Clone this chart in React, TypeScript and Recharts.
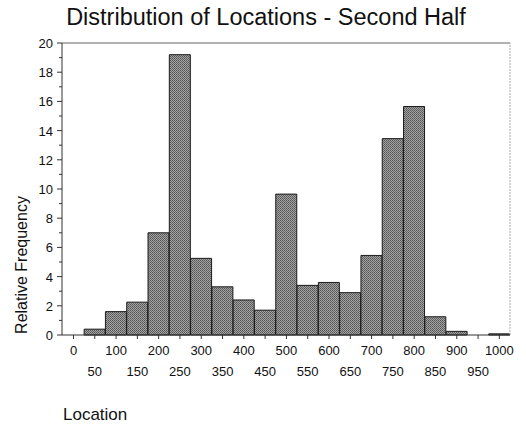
import { Bar, BarChart, ReferenceLine, XAxis, YAxis } from "recharts";

// bin centres (width 50) and relative frequency (%)
const binCenters = [50, 100, 150, 200, 250, 300, 350, 400, 450, 500, 550, 600, 650, 700, 750, 800, 850, 900, 950, 1000];
const frequencies = [0.4, 1.6, 2.25, 7.0, 19.2, 5.25, 3.3, 2.4, 1.7, 9.65, 3.4, 3.6, 2.9, 5.45, 13.45, 15.65, 1.25, 0.25, 0, 0.08];
const xTicks = [0, 50, 100, 150, 200, 250, 300, 350, 400, 450, 500, 550, 600, 650, 700, 750, 800, 850, 900, 950, 1000];
const yTicks = [0, 1, 2, 3, 4, 5, 6, 7, 8, 9, 10, 11, 12, 13, 14, 15, 16, 17, 18, 19, 20];

const data = binCenters.map((x, i) => ({ x, freq: frequencies[i] }));

const FONT = "'Liberation Sans', Arial, Helvetica, sans-serif";

function XTick(props: any) {
  const { x, y, payload } = props;
  const v = payload.value as number;
  const upper = v % 100 === 0;
  return (
    <g>
      <line x1={x} y1={y - 8} x2={x} y2={y - 4} stroke="#333" strokeWidth={1} />
      <text
        x={x}
        y={upper ? y + 12 : y + 33}
        textAnchor="middle"
        fontSize={13}
        fontFamily={FONT}
        fill="#111"
      >
        {v}
      </text>
    </g>
  );
}

function YTick(props: any) {
  const { x, y, payload } = props;
  const v = payload.value as number;
  const major = v % 2 === 0;
  return (
    <g>
      <line x1={x + 8 - (major ? 5 : 3)} y1={y} x2={x + 8} y2={y} stroke="#333" strokeWidth={1} />
      {major && (
        <text x={x - 1} y={y + 5} textAnchor="end" fontSize={13} fontFamily={FONT} fill="#111">
          {v}
        </text>
      )}
    </g>
  );
}

export default function App() {
  return (
    <div style={{ position: "absolute", left: 0, top: 0, width: 526, height: 427, background: "#fff", fontFamily: FONT }}>
      <div style={{ position: "absolute", left: 0, top: 4, width: 532, textAlign: "center", fontSize: 23.5, color: "#111" }}>
        Distribution of Locations - Second Half
      </div>
      <div
        style={{
          position: "absolute",
          left: 22,
          top: 265,
          fontSize: 16,
          color: "#111",
          whiteSpace: "nowrap",
          transform: "translate(-50%, -50%) rotate(-90deg)",
        }}
      >
        Relative Frequency
      </div>
      <div style={{ position: "absolute", left: 63, top: 405, fontSize: 17, color: "#111" }}>Location</div>
      <BarChart
        width={526}
        height={427}
        data={data}
        margin={{ top: 43, right: 16, bottom: 42, left: 0 }}
        barCategoryGap={0}
        barGap={0}
      >
        <defs>
          <pattern id="dither" width="2" height="2" patternUnits="userSpaceOnUse">
            <rect width="2" height="2" fill="#a2a2a2" />
            <rect width="1" height="1" fill="#555" />
            <rect x="1" y="1" width="1" height="1" fill="#666" />
          </pattern>
        </defs>
        <XAxis
          dataKey="x"
          type="number"
          domain={[-27, 1025]}
          ticks={xTicks}
          interval={0}
          height={50}
          tickLine={false}
          axisLine={{ stroke: "#333" }}
          tick={<XTick />}
          allowDataOverflow
        />
        <YAxis
          type="number"
          domain={[0, 20]}
          ticks={yTicks}
          interval={0}
          width={62}
          tickLine={false}
          axisLine={{ stroke: "#333" }}
          tick={<YTick />}
        />
        <ReferenceLine y={20} stroke="#999" strokeWidth={1.5} />
        <ReferenceLine x={1025} stroke="#aaa" strokeDasharray="2 1" />
        <Bar dataKey="freq" fill="url(#dither)" stroke="#1a1a1a" strokeWidth={1} barSize={21} isAnimationActive={false} />
      </BarChart>
    </div>
  );
}
